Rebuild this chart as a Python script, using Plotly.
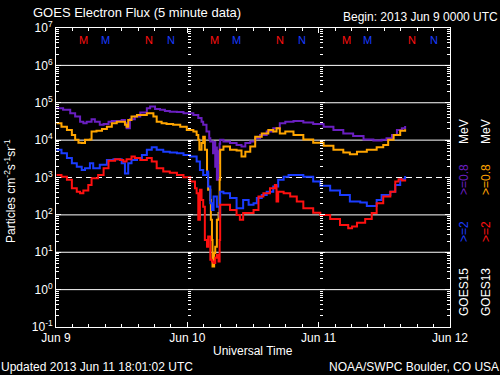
import numpy as np
import pandas as pd
import plotly.graph_objects as go

# ---------------- data (hours since 2013-06-09 00:00 UT, log10 flux) ----------------
purple_hours = [0.1, 1.3, 2.6, 3.5, 4.4, 5.0, 5.6, 6.5, 7.1, 8.0, 8.7, 9.6, 10.2, 11.1, 12.0, 12.6, 12.9, 13.5,
                14.4, 15.4, 16.6, 17.2, 18.1, 19.0, 19.9, 20.8, 22.1, 23.3, 24.2, 25.1, 26.0, 26.6, 26.9, 27.5,
                28.0, 28.2, 28.7, 28.9, 29.1, 29.3, 29.4, 29.6, 29.7, 29.9, 30.0, 30.6, 31.8, 33.0, 33.9, 34.6,
                35.5, 36.4, 37.3, 38.5, 39.7, 40.9, 41.9, 43.4, 45.2, 47.0, 48.9, 50.7, 52.5, 54.3, 56.2, 58.0,
                59.5, 60.4, 61.4, 62.3, 63.2, 63.8]
purple_log = [4.85, 4.81, 4.72, 4.63, 4.49, 4.45, 4.49, 4.56, 4.49, 4.41, 4.43, 4.49, 4.51, 4.51, 4.54, 4.45, 4.32, 4.56,
              4.63, 4.74, 4.85, 4.90, 4.83, 4.81, 4.78, 4.76, 4.75, 4.72, 4.72, 4.67, 4.59, 4.49, 4.41, 4.23,
              4.05, 3.96, 3.65, 3.95, 3.29, 3.80, 2.94, 3.70, 3.39, 3.90, 4.01, 3.96, 3.92, 3.87, 3.83, 3.92,
              3.96, 4.05, 4.14, 4.23, 4.32, 4.45, 4.49, 4.51, 4.47, 4.43, 4.36, 4.27, 4.18, 4.11, 4.02, 3.99,
              4.01, 4.05, 4.14, 4.27, 4.32, 4.38]

orange_hours = [0.1, 1.0, 2.0, 2.9, 3.5, 4.1, 4.7, 5.3, 6.2, 6.5, 7.4, 8.4, 9.3, 10.2, 11.1, 12.0, 12.6, 12.9, 13.2,
                13.8, 14.8, 15.7, 16.6, 17.2, 17.8, 18.4, 19.3, 20.2, 21.4, 22.7, 23.9, 25.1, 25.7, 26.0, 26.2,
                26.6, 26.9, 27.2, 27.6, 27.8, 28.2, 28.3, 28.5, 28.6, 28.9, 29.1, 29.4, 29.7, 29.9, 30.0, 30.6,
                31.8, 33.0, 33.9, 34.6, 35.5, 36.4, 37.6, 38.8, 39.7, 40.3, 40.9, 41.9, 43.4, 45.2, 47.0, 48.9,
                50.7, 52.5, 53.7, 55.0, 56.8, 58.6, 59.8, 60.7, 61.7, 62.9, 63.8]
orange_log = [4.45, 4.36, 4.27, 4.14, 4.01, 3.93, 3.92, 4.01, 4.02, 4.23, 4.25, 4.30, 4.36, 4.45, 4.49, 4.49, 4.41, 4.36, 4.54,
              4.63, 4.67, 4.67, 4.72, 4.72, 4.63, 4.49, 4.45, 4.43, 4.41, 4.36, 4.27, 4.23, 4.14, 4.01, 3.74,
              3.92, 4.09, 3.74, 3.11, 2.67, 2.40, 1.87, 1.33, 0.62, 0.98, 1.15, 1.87, 2.05, 2.94, 3.74, 3.83,
              3.74, 3.72, 3.56, 3.69, 3.83, 4.09, 4.18, 4.27, 4.23, 4.32, 4.18, 4.23, 4.14, 4.02, 3.93, 3.85,
              3.74, 3.67, 3.62, 3.69, 3.74, 3.81, 3.87, 4.01, 4.14, 4.25, 4.29]

blue_hours = [0.1, 1.0, 2.0, 2.9, 3.8, 4.7, 5.3, 6.2, 6.8, 8.0, 9.3, 10.5, 11.4, 12.0, 12.6, 13.2, 13.8, 14.8, 15.7,
              16.6, 17.5, 18.4, 19.6, 20.8, 22.1, 23.3, 24.5, 25.7, 26.3, 26.9, 27.6, 27.8, 28.2, 28.5, 28.8,
              29.4, 29.9, 30.0, 30.6, 31.8, 33.0, 33.6, 34.2, 35.2, 36.1, 36.7, 37.6, 38.5, 39.7, 40.6, 41.6,
              42.5, 43.4, 45.2, 47.0, 48.3, 50.1, 51.9, 53.7, 55.6, 56.8, 57.7, 58.6, 59.5, 61.1, 62.0, 62.9, 63.8]
blue_log = [3.74, 3.65, 3.52, 3.38, 3.29, 3.20, 3.25, 3.38, 3.25, 3.34, 3.47, 3.49, 3.49, 3.38, 3.11, 3.38, 3.47, 3.52, 3.60,
            3.74, 3.81, 3.74, 3.69, 3.67, 3.65, 3.60, 3.56, 3.43, 3.20, 3.07, 3.16, 2.76, 2.31, 2.13, 2.49,
            2.22, 1.95, 2.62, 2.58, 2.45, 2.18, 2.18, 2.40, 2.27, 2.31, 2.45, 2.53, 2.62, 2.76, 2.94, 3.02,
            3.07, 3.07, 3.02, 2.89, 2.78, 2.65, 2.53, 2.36, 2.33, 2.24, 2.24, 2.40, 2.53, 2.62, 2.80, 2.95, 3.04]

red_hours = [0.1, 1.0, 2.0, 2.9, 3.8, 4.4, 5.0, 5.9, 6.5, 7.7, 8.7, 9.6, 10.8, 11.7, 12.3, 12.9, 13.8, 14.4, 15.4,
             16.6, 17.5, 18.4, 19.6, 20.8, 22.1, 23.3, 24.5, 25.4, 25.7, 26.0, 26.3, 26.6, 26.9, 27.2, 27.6,
             27.8, 28.2, 28.5, 28.8, 29.1, 29.4, 29.7, 29.9, 30.0, 30.6, 31.8, 33.0, 33.6, 34.2, 35.5, 36.1,
             37.0, 37.9, 39.1, 40.0, 40.3, 40.6, 41.6, 42.8, 44.0, 45.2, 47.0, 48.3, 50.1, 51.9, 53.4, 54.1,
             55.0, 56.5, 57.7, 58.6, 59.8, 61.1, 62.0, 62.6, 63.2, 63.8]
red_log = [3.07, 3.02, 2.94, 2.71, 2.62, 2.58, 2.65, 2.80, 2.98, 3.07, 3.25, 3.45, 3.49, 3.47, 3.43, 3.49, 3.56, 3.52, 3.47,
           3.52, 3.43, 3.25, 3.16, 3.13, 3.07, 3.01, 2.89, 2.71, 2.58, 1.87, 2.67, 2.40, 2.22, 1.33, 1.15,
           1.42, 0.80, 0.75, 0.71, 0.85, 0.93, 0.75, 1.33, 2.27, 2.27, 2.13, 2.00, 1.87, 2.05, 2.05, 2.13,
           2.49, 2.58, 2.71, 2.80, 2.36, 2.62, 2.58, 2.49, 2.36, 2.18, 2.06, 2.00, 1.89, 1.73, 1.64, 1.69,
           1.79, 1.89, 2.05, 2.31, 2.49, 2.62, 2.89, 2.95, 2.92, 2.89]

# local midnight (M) / noon (N) markers: hours, label, satellite
marker_hours = [5, 9, 17, 21, 29, 33, 41, 45, 53, 57, 65, 69]
marker_labels = ["M", "M", "N", "N", "M", "M", "N", "N", "M", "M", "N", "N"]
marker_sat = ["GOES13", "GOES15"] * 6

y_exponents = [-1, 0, 1, 2, 3, 4, 5, 6, 7]
y_ticklabels = [f"10<sup>{e}</sup>" for e in y_exponents]
day_labels = ["Jun 9", "Jun 10", "Jun 11", "Jun 12"]

# ---------------- styling ----------------
START = pd.Timestamp("2013-06-09")
FONT = "Liberation Sans"
C_PURPLE, C_ORANGE, C_BLUE, C_RED = "#6a1fc0", "#ffa500", "#1a3cff", "#ff1010"
sat_color = {"GOES13": C_RED, "GOES15": C_BLUE}

W, H = 500, 375
L, R, T, B = 56, 450, 28, 327


def px_x(x):
    return (x - L) / (R - L)


def px_y(y):
    return (B - y) / (B - T)


def to_time(hours):
    return START + pd.to_timedelta(np.array(hours, dtype=float), unit="h")


fig = go.Figure()
for hrs, lg, col in [(purple_hours, purple_log, C_PURPLE), (orange_hours, orange_log, C_ORANGE),
                     (blue_hours, blue_log, C_BLUE), (red_hours, red_log, C_RED)]:
    fig.add_trace(go.Scatter(x=to_time(hrs), y=10 ** np.array(lg), mode="lines",
                             line=dict(color=col, width=2, shape="hv"),
                             showlegend=False, hoverinfo="skip"))

# dummy traces so the day-boundary tick axes render
for ax in ["y2", "y3"]:
    fig.add_trace(go.Scatter(x=[None], y=[None], yaxis=ax, showlegend=False, hoverinfo="skip"))

major_vals = [10.0 ** e for e in y_exponents]
minor_vals = [m * 10.0 ** e for e in y_exponents[:-1] for m in range(2, 10)]

yaxis_common = dict(type="log", range=[-1, 7], tickmode="array", tickvals=major_vals,
                    ticks="inside", ticklen=5, tickcolor="white", showgrid=False, zeroline=False,
                    minor=dict(tickmode="array", tickvals=minor_vals, ticks="inside", ticklen=3,
                               tickcolor="white", showgrid=False))

day_ticks = [START + pd.Timedelta(days=i) for i in range(len(day_labels))]

fig.update_layout(
    width=W, height=H, autosize=False,
    margin=dict(l=L, r=W - R, t=T, b=H - B, pad=0),
    paper_bgcolor="black", plot_bgcolor="black",
    font=dict(family=FONT, color="white", size=12),
    xaxis=dict(type="date", range=[day_ticks[0], day_ticks[-1]], tickmode="array",
               tickvals=day_ticks, ticktext=day_labels, ticks="inside", ticklen=5, tickcolor="white",
               showline=True, linecolor="white", linewidth=1, mirror="ticks", showgrid=False,
               zeroline=False, tickfont=dict(size=12, color="white"),
               minor=dict(dtick=3 * 3600 * 1000, ticks="inside", ticklen=3, tickcolor="white",
                          showgrid=False)),
    yaxis=dict(**yaxis_common, ticktext=y_ticklabels, showline=True, linecolor="white", linewidth=1,
               mirror="ticks", tickfont=dict(size=12, color="white")),
    yaxis2=dict(**yaxis_common, overlaying="y", anchor="free", position=1 / 3, side="left",
                showline=False, showticklabels=False),
    yaxis3=dict(**yaxis_common, overlaying="y", anchor="free", position=2 / 3, side="left",
                showline=False, showticklabels=False),
)

# horizontal decade lines (dashed threshold at 10^3)
for e in y_exponents[1:-1]:
    fig.add_shape(type="line", xref="paper", x0=0, x1=1, yref="y", y0=10.0 ** e, y1=10.0 ** e,
                  line=dict(color="white", width=1, dash="6px,4px" if e == 3 else "solid"),
                  layer="below")


def text(t, x, y, xanchor="center", color="white", size=12, angle=0):
    fig.add_annotation(text=t, xref="paper", yref="paper", x=px_x(x), y=px_y(y),
                       xanchor=xanchor, yanchor="middle", showarrow=False, textangle=angle,
                       font=dict(family=FONT, size=size, color=color), borderpad=0)


text("GOES Electron Flux (5 minute data)", 32, 12, xanchor="left", size=13)
text("Begin: 2013 Jun 9 0000 UTC", 499, 17, xanchor="right", size=12)
text("Universal Time", 253, 351, size=12)
text("Updated 2013 Jun 11 18:01:02 UTC", 0, 367, xanchor="left", size=12)
text("NOAA/SWPC Boulder, CO USA", 500, 367, xanchor="right", size=12)
text("Particles cm<sup>-2</sup>s<sup>-1</sup>sr<sup>-1</sup>", 10, 191, angle=-90, size=12)

# rotated legend columns
for xc, sat, c08, c2 in [(464, "GOES15", C_PURPLE, C_BLUE), (486, "GOES13", C_ORANGE, C_RED)]:
    text("MeV", xc, 132, angle=-90)
    text("&gt;=0.8", xc, 180, color=c08, angle=-90)
    text("&gt;=2", xc, 232, color=c2, angle=-90)
    text(sat, xc, 292, angle=-90)

# M / N markers along top
for h, lab, sat in zip(marker_hours, marker_labels, marker_sat):
    fig.add_annotation(text=lab, x=to_time([h])[0], xref="x", yref="paper", y=px_y(40),
                       showarrow=False, xanchor="center", yanchor="middle",
                       font=dict(family=FONT, size=11, color=sat_color[sat]))

fig.write_html("out.html", config={"displayModeBar": False},
               post_script="document.body.style.margin='0px';document.body.style.padding='0px';"
                           "document.body.style.background='black';")
